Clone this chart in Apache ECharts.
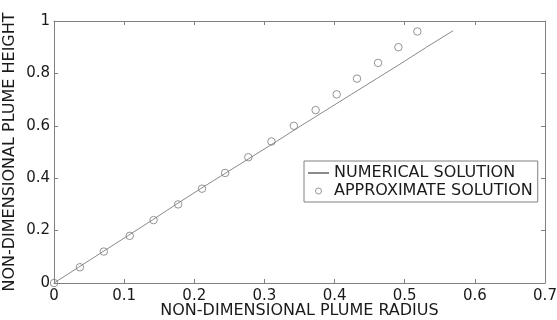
<!DOCTYPE html>
<html>
<head>
<meta charset="utf-8">
<script src="https://cdn.jsdelivr.net/npm/echarts@6/dist/echarts.min.js"></script>
<style>html,body{margin:0;padding:0;background:#fff}#c{width:557px;height:320px}</style>
</head>
<body>
<div id="c"></div>
<script>
// Numerical solution (line)
var numRadius = [0, 0.035, 0.070, 0.105, 0.140, 0.174, 0.209, 0.245, 0.281, 0.317, 0.352, 0.388, 0.424, 0.460, 0.496, 0.531, 0.569];
var numHeight = [0, 0.06, 0.12, 0.18, 0.24, 0.30, 0.36, 0.42, 0.48, 0.54, 0.60, 0.66, 0.72, 0.78, 0.84, 0.90, 0.963];
// Approximate solution (circles)
var apxRadius = [0, 0.037, 0.071, 0.108, 0.142, 0.177, 0.211, 0.244, 0.277, 0.310, 0.342, 0.373, 0.403, 0.432, 0.462, 0.491, 0.518];
var apxHeight = [0, 0.06, 0.12, 0.18, 0.24, 0.30, 0.36, 0.42, 0.48, 0.54, 0.60, 0.66, 0.72, 0.78, 0.84, 0.90, 0.96];
var xTicks = [0, 0.1, 0.2, 0.3, 0.4, 0.5, 0.6, 0.7];
var yTicks = [0, 0.2, 0.4, 0.6, 0.8, 1];
var seriesNames = ['NUMERICAL SOLUTION', 'APPROXIMATE SOLUTION'];
var xTitle = 'NON-DIMENSIONAL PLUME RADIUS';
var yTitle = 'NON-DIMENSIONAL PLUME HEIGHT';

function zip(a, b) { return a.map(function (v, i) { return [v, b[i]]; }); }

var FONT = 'DejaVu Sans';
var axisGray = '#808080';
var textCol = '#1a1a1a';

var chart = echarts.init(document.getElementById('c'), null, { renderer: 'canvas' });
var baseAxis = {
  axisLine: { show: true, onZero: false, lineStyle: { color: axisGray, width: 1 } },
  axisTick: { show: true, inside: true, length: 4, lineStyle: { color: axisGray } },
  splitLine: { show: false }
};
chart.setOption({
  animation: false,
  backgroundColor: '#fff',
  grid: { left: 54, right: 12, top: 21, bottom: 37, containLabel: false, outerBoundsMode: 'none' },
  legend: {
    orient: 'vertical',
    left: 304, top: 161,
    backgroundColor: '#fff',
    borderColor: axisGray, borderWidth: 1,
    padding: [3, 5, 2, 3],
    itemWidth: 21, itemHeight: 6, itemGap: 0,
    textStyle: { fontFamily: FONT, fontSize: 16, color: textCol, lineHeight: 18, padding: [0, 0, 0, 0] },
    data: [
      { name: seriesNames[0], itemStyle: { opacity: 0 } },
      { name: seriesNames[1], icon: 'circle', itemStyle: { color: 'rgba(255,255,255,0)', borderColor: '#7a7a7a', borderWidth: 1 } }
    ]
  },
  xAxis: [
    Object.assign({}, baseAxis, {
      type: 'value', min: xTicks[0], max: xTicks[xTicks.length - 1], interval: 0.1, position: 'bottom',
      name: xTitle, nameLocation: 'middle', nameGap: 20, nameMoveOverlap: false,
      nameTextStyle: { fontFamily: FONT, fontSize: 16, color: textCol },
      axisLabel: { fontFamily: FONT, fontSize: 15, color: textCol, margin: 6, showMinLabel: true, showMaxLabel: true, hideOverlap: false }
    }),
    Object.assign({}, baseAxis, {
      type: 'value', min: xTicks[0], max: xTicks[xTicks.length - 1], interval: 0.1, position: 'top',
      axisLabel: { show: false }
    })
  ],
  yAxis: [
    Object.assign({}, baseAxis, {
      type: 'value', min: yTicks[0], max: yTicks[yTicks.length - 1], interval: 0.2, position: 'left',
      name: yTitle, nameLocation: 'middle', nameGap: 36, nameMoveOverlap: false,
      nameTextStyle: { fontFamily: FONT, fontSize: 16, color: textCol },
      axisLabel: { fontFamily: FONT, fontSize: 15, color: textCol, margin: 4, showMinLabel: true, showMaxLabel: true, hideOverlap: false }
    }),
    Object.assign({}, baseAxis, {
      type: 'value', min: yTicks[0], max: yTicks[yTicks.length - 1], interval: 0.2, position: 'right',
      axisLabel: { show: false }
    })
  ],
  series: [
    {
      name: seriesNames[0], type: 'line', showSymbol: false, symbol: 'none',
      data: zip(numRadius, numHeight),
      lineStyle: { color: '#8a8a8a', width: 1 },
      itemStyle: { color: '#8a8a8a' },
      z: 2
    },
    {
      name: seriesNames[1], type: 'scatter', symbol: 'circle', symbolSize: 7.5,
      data: zip(apxRadius, apxHeight),
      itemStyle: { color: 'rgba(255,255,255,0)', borderColor: '#7a7a7a', borderWidth: 1 },
      z: 3
    }
  ]
});
</script>
</body>
</html>
